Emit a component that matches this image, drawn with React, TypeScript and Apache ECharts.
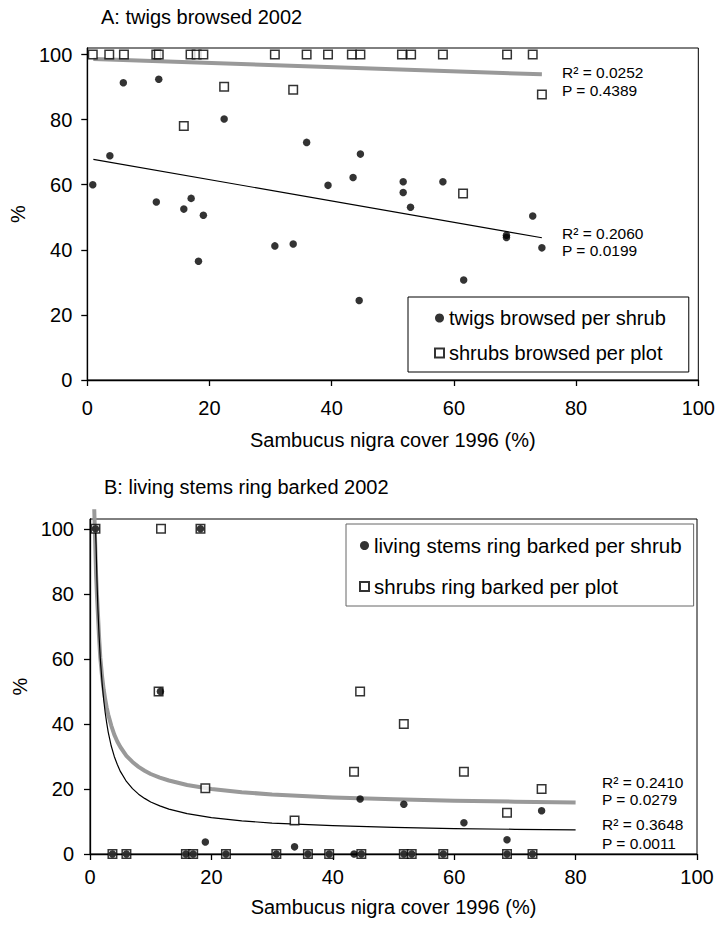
import React, { useEffect, useRef } from 'react';
import * as echarts from 'echarts';

const FONT = '"Liberation Sans", Arial, Helvetica, sans-serif';

const xTicks = [0, 20, 40, 60, 80, 100];
const yTicks = [0, 20, 40, 60, 80, 100];
const xName = 'Sambucus nigra cover 1996 (%)';
const yName = '%';

// Panel A: twigs browsed 2002
const titleA = 'A: twigs browsed 2002';
const nameA1 = 'twigs browsed per shrub';
const nameA2 = 'shrubs browsed per plot';
const twigsPerShrub: [number, number][] = [
  [0.9, 60.0], [3.7, 68.9], [5.9, 91.3], [11.3, 54.7], [11.7, 92.4], [15.8, 52.5],
  [17.0, 55.8], [18.2, 36.5], [19.0, 50.6], [22.4, 80.2], [30.7, 41.2], [33.7, 41.8],
  [35.9, 73.0], [39.4, 59.8], [43.5, 62.2], [44.5, 24.4], [44.7, 69.4], [51.7, 60.9],
  [51.7, 57.6], [52.9, 53.1], [58.2, 60.9], [61.6, 30.7], [68.6, 44.5], [68.6, 43.8],
  [72.9, 50.4], [74.4, 40.6],
];
const shrubsPerPlot: [number, number][] = [
  [0.9, 100], [3.6, 100], [6.0, 100], [11.3, 100], [11.7, 100], [15.8, 78.0],
  [16.9, 100], [17.9, 100], [19.0, 100], [22.4, 90.1], [30.7, 100], [33.7, 89.2],
  [35.9, 100], [39.4, 100], [43.3, 100], [44.7, 100], [51.5, 100], [53.0, 100],
  [58.2, 100], [61.5, 57.3], [68.7, 100], [72.9, 100], [74.4, 87.7],
];
const twigsTrend: [number, number][] = [[1.0, 67.8], [74.4, 43.7]];
const shrubsTrend: [number, number][] = [[1.0, 98.6], [74.4, 93.9]];
const statsA = ['R² = 0.0252', 'P = 0.4389', 'R² = 0.2060', 'P = 0.0199'];

// Panel B: living stems ring barked 2002
const titleB = 'B: living stems ring barked 2002';
const nameB1 = 'living stems ring barked per shrub';
const nameB2 = 'shrubs ring barked per plot';
const stemsPerShrub: [number, number][] = [
  [0.9, 100], [18.2, 100], [11.6, 50], [3.7, 0], [6.0, 0], [15.8, 0], [17.0, 0],
  [19.0, 3.7], [22.4, 0], [30.7, 0], [33.7, 2.2], [35.9, 0], [39.4, 0], [43.5, 0],
  [44.5, 16.9], [44.7, 0], [51.7, 15.3], [51.7, 0], [53.0, 0], [58.2, 0], [61.6, 9.6],
  [68.7, 4.4], [68.7, 0], [72.9, 0], [74.4, 13.3],
];
const shrubsRingBarked: [number, number][] = [
  [0.9, 100], [11.7, 100], [18.2, 100], [11.3, 50], [44.5, 50], [51.7, 40],
  [43.5, 25.3], [61.6, 25.3], [19.0, 20.2], [74.4, 20.0], [68.7, 12.7], [33.7, 10.3],
  [3.7, 0], [6.0, 0], [15.8, 0], [17.0, 0], [22.4, 0], [30.7, 0], [35.9, 0], [39.4, 0],
  [44.7, 0], [51.7, 0], [53.0, 0], [58.2, 0], [68.7, 0], [72.9, 0],
];
// trend curves
const stemsTrend: [number, number][] = [
  [0.9, 100], [1.0, 95], [1.15, 84], [1.3, 75.5], [1.5, 67], [1.7, 60], [2.0, 52.4],
  [2.25, 47.5], [2.5, 43.5], [2.75, 40.3], [3.0, 37.5], [3.5, 33.2], [4.0, 30],
  [4.5, 27.5], [5.0, 25.4], [6.0, 22.3], [7.0, 20.1], [8.0, 18.4], [9.0, 17.1], [10, 16],
  [11.5, 14.8], [13, 13.8], [16, 12.4], [20, 11.2], [25, 10.2], [30, 9.5], [40, 8.7],
  [50, 8.2], [60, 7.8], [70, 7.6], [80, 7.4],
];
const plotsTrend: [number, number][] = [
  [0.7, 106], [0.85, 96], [1.0, 86], [1.15, 79.5], [1.3, 74], [1.5, 66.5], [1.7, 60.3],
  [2.0, 54.4], [2.25, 50.6], [2.5, 47.6], [2.75, 45.0], [3.0, 42.9], [3.5, 39.5],
  [4.0, 36.7], [4.5, 34.6], [5.0, 32.9], [6.0, 30.2], [7.0, 28.3], [8.0, 26.8],
  [9.0, 25.6], [10, 24.6], [11.5, 23.5], [13, 22.6], [16, 21.2], [20, 20.0], [25, 19.0],
  [30, 18.3], [40, 17.4], [50, 16.8], [60, 16.4], [70, 16.1], [80, 15.8],
];
const statsB = ['R² = 0.2410', 'P = 0.0279', 'R² = 0.3648', 'P = 0.0011'];

const txt = (size: number) => ({ fontSize: size, color: '#000', fontFamily: FONT });

function xAxisCfg(gridIndex: number, labelMargin: number, nameGap: number) {
  return {
    type: 'value', gridIndex, min: 0, max: 100, interval: 20,
    name: xName, nameLocation: 'middle', nameGap, nameTextStyle: txt(20),
    axisLine: { show: true, onZero: false, lineStyle: { color: '#000', width: 1.3 } },
    axisTick: { show: true, length: 6, lineStyle: { color: '#000', width: 1.3 }, customValues: xTicks },
    axisLabel: { margin: labelMargin, ...txt(20), customValues: xTicks },
    splitLine: { show: false },
  };
}
function yAxisCfg(gridIndex: number, max: number, labelMargin: number, nameGap: number) {
  return {
    type: 'value', gridIndex, min: 0, max, interval: 20,
    name: yName, nameLocation: 'middle', nameGap, nameTextStyle: txt(20),
    axisLine: { show: true, onZero: false, lineStyle: { color: '#000', width: 1.3 } },
    axisTick: { show: true, length: 6, lineStyle: { color: '#000', width: 1.3 }, customValues: yTicks },
    axisLabel: { margin: labelMargin, ...txt(20), customValues: yTicks },
    splitLine: { show: false },
  };
}

const circle = (name: string, data: [number, number][], idx: number) => ({
  type: 'scatter', name, data, xAxisIndex: idx, yAxisIndex: idx, symbol: 'circle', symbolSize: 7.5,
  itemStyle: { color: '#000' }, z: 4,
});
const square = (name: string, data: [number, number][], idx: number) => ({
  type: 'scatter', name, data, xAxisIndex: idx, yAxisIndex: idx, symbol: 'rect', symbolSize: 8.5,
  itemStyle: { color: '#fff', borderColor: '#000', borderWidth: 1.5 }, z: 3,
});
const trend = (data: [number, number][], idx: number, color: string, width: number, clip = true) => ({
  type: 'line', data, xAxisIndex: idx, yAxisIndex: idx, symbol: 'none', smooth: false,
  lineStyle: { color, width, join: 'round', cap: 'butt' }, clip, z: 2, silent: true,
});

const statText = (text: string, x: number, y: number) => ({
  type: 'text', x, y, silent: true,
  style: { text, fontSize: 15.5, fontFamily: FONT, fill: '#000', verticalAlign: 'middle' },
});

const option = {
  animation: false,
  backgroundColor: '#fff',
  title: [
    { text: titleA, left: 101, top: 7, padding: 0, textStyle: { ...txt(20), fontWeight: 'normal' } },
    { text: titleB, left: 104, top: 477, padding: 0, textStyle: { ...txt(20), fontWeight: 'normal' } },
  ],
  grid: [
    { left: 87, right: 19, top: 48, height: 332, show: true, borderColor: '#000', borderWidth: 1, backgroundColor: 'transparent' },
    { left: 90, right: 21, top: 519, height: 335, show: true, borderColor: '#000', borderWidth: 1, backgroundColor: 'transparent' },
  ],
  xAxis: [xAxisCfg(0, 18, 50), xAxisCfg(1, 13, 43)],
  yAxis: [yAxisCfg(0, 102, 15, 55), yAxisCfg(1, 103, 16, 58)],
  legend: [
    {
      data: [nameA1, nameA2], orient: 'vertical', left: 408, top: 297,
      padding: [11, 23, 9, 26], itemGap: 15, itemWidth: 9, itemHeight: 9,
      borderColor: '#000', borderWidth: 1, backgroundColor: '#fff',
      textStyle: txt(20),
    },
    {
      data: [nameB1, nameB2], orient: 'vertical', left: 346, top: 524,
      padding: [11, 12, 9, 13], itemGap: 20, itemWidth: 9, itemHeight: 9,
      borderColor: '#666', borderWidth: 1, backgroundColor: '#fff',
      textStyle: txt(20.5),
    },
  ],
  series: [
    trend(shrubsTrend, 0, '#999', 4),
    trend(twigsTrend, 0, '#000', 1.2),
    square(nameA2, shrubsPerPlot, 0),
    circle(nameA1, twigsPerShrub, 0),
    trend(plotsTrend, 1, '#999', 4, false),
    trend(stemsTrend, 1, '#000', 1.2),
    square(nameB2, shrubsRingBarked, 1),
    circle(nameB1, stemsPerShrub, 1),
  ],
  graphic: [
    statText(statsA[0], 562, 72),
    statText(statsA[1], 562, 90),
    statText(statsA[2], 562, 233),
    statText(statsA[3], 562, 250),
    statText(statsB[0], 602, 782),
    statText(statsB[1], 602, 799),
    statText(statsB[2], 602, 824),
    statText(statsB[3], 602, 843),
  ],
};

export default function App() {
  const ref = useRef<HTMLDivElement>(null);
  useEffect(() => {
    const chart = echarts.init(ref.current!, null, { renderer: 'svg', width: 718, height: 928 });
    chart.setOption(option as any);
    return () => chart.dispose();
  }, []);
  return (
    <div
      ref={ref}
      style={{ position: 'absolute', left: 0, top: 0, width: 718, height: 928, background: '#fff' }}
    />
  );
}
